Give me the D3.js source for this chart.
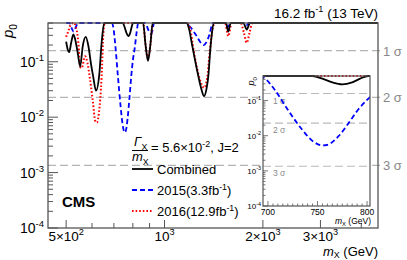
<!DOCTYPE html>
<html>
<head>
<meta charset="utf-8">
<script src="https://cdn.jsdelivr.net/npm/d3@7"></script>
<style>
  body { margin: 0; background: #fff; }
  svg { display: block; font-family: "Liberation Sans", Arial, Helvetica, sans-serif; }
</style>
</head>
<body>
<svg width="407" height="260"></svg>
<script>
// ---- data ----
const massComb = [500, 505, 511, 518, 526, 534, 542, 552, 562, 574, 585, 596, 605, 617, 632, 642, 654,
  745, 755, 765, 775, 785, 793, 801, 860, 875, 890, 905, 920,
  1169, 1190, 1211, 1255, 1295, 1321, 1345, 1362, 1380, 1394, 1415, 1543, 1567, 1594, 1743, 1785, 1826, 4500];
const pComb = [0.23, 0.17, 0.15, 0.22, 0.31, 0.24, 0.15, 0.082, 0.19, 0.28, 0.19, 0.09, 0.054, 0.030, 0.062, 0.22, 0.5,
  0.5, 0.42, 0.33, 0.29, 0.33, 0.42, 0.5, 0.5, 0.2, 0.104, 0.2, 0.5,
  0.5, 0.38, 0.22, 0.075, 0.033, 0.024, 0.033, 0.056, 0.16, 0.3, 0.5, 0.5, 0.35, 0.5, 0.5, 0.38, 0.5, 0.5];

const mass15 = [500, 512, 520, 527, 535, 545, 689, 697, 707, 720, 734, 744, 755, 760, 771, 781,
  791, 800, 812, 822, 831, 872, 895, 907, 918, 929,
  1160, 1200, 1250, 1300, 1320, 1340, 1370, 1395, 1410, 1530, 1560, 1590, 1750, 1780, 1810, 4500];
const p15 = [0.5, 0.5, 0.4, 0.35, 0.42, 0.5, 0.5, 0.42, 0.2, 0.055, 0.0155, 0.0075, 0.0053, 0.0055, 0.0095, 0.022,
  0.055, 0.105, 0.19, 0.35, 0.5, 0.5, 0.36, 0.32, 0.36, 0.5,
  0.5, 0.42, 0.3, 0.21, 0.2, 0.22, 0.3, 0.45, 0.5, 0.5, 0.42, 0.5, 0.5, 0.45, 0.5, 0.5];

const mass16 = [500, 508, 518, 528, 536, 545, 552, 558, 571, 581, 592, 603, 614, 621, 630, 642, 650, 657,
  860, 875, 890, 905, 922, 1170, 1197, 1230, 1280, 1321, 1350, 1375, 1404, 1430,
  1532, 1567, 1605, 1711, 1750, 1785, 1820, 1856, 4500];
const p16 = [0.28, 0.36, 0.48, 0.5, 0.42, 0.22, 0.08, 0.077, 0.125, 0.095, 0.047, 0.02, 0.0085, 0.008, 0.012, 0.054, 0.33, 0.5,
  0.5, 0.2, 0.115, 0.2, 0.5, 0.5, 0.4, 0.15, 0.05, 0.034, 0.05, 0.15, 0.4, 0.5,
  0.5, 0.29, 0.5, 0.5, 0.33, 0.22, 0.33, 0.5, 0.5];

const sigmaP = [0.1587, 0.02275, 0.00135];
const sigmaLabels = ['1', '2', '3'];
const xTickLabels = [[500, '5\u00d710', '2'], [1000, '10', '3'], [2000, '2\u00d710', '3'], [3000, '3\u00d710', '3']];
const xMinor = [600, 700, 800, 900, 4000];
const yDecades = [1e-4, 1e-3, 1e-2, 1e-1];
const insetXLabels = [700, 750, 800];

// ---- helpers ----
function rich(sel, parts, fs, subOff) {
  let shift = 0;
  parts.forEach(p => {
    const t = typeof p === 'string' ? { t: p } : p;
    const target = t.s === 'sup' ? -0.42 * fs : t.s === 'sub' ? (subOff || 0.28) * fs : 0;
    sel.append('tspan')
      .attr('dy', target - shift)
      .style('font-size', (t.s ? 0.68 * fs : fs) + 'px')
      .style('font-style', t.i ? 'italic' : null)
      .text(t.t);
    shift = target;
  });
  return sel;
}

function minorLog(lo, hi) {
  const out = [];
  for (let e = -4; e <= 0; e++) {
    for (let k = 1; k <= 9; k++) {
      const v = k * Math.pow(10, e);
      if (v >= lo * 0.999 && v <= hi * 1.001) out.push(v);
    }
  }
  return out;
}

const svg = d3.select('svg');
const fL = 48, fR = 378, fT = 23, fB = 228;

const x = d3.scaleLog().domain([440, 4500]).range([fL, fR]);
const y = d3.scaleLog().domain([1e-4, 0.5]).range([fB, fT]);

svg.append('defs').append('clipPath').attr('id', 'clipMain')
  .append('rect').attr('x', fL).attr('y', fT - 2).attr('width', fR - fL).attr('height', fB - fT + 2);

const series = [
  { m: mass15, p: p15, color: '#0000ff', dash: '5,3', w: 1.8 },
  { m: mass16, p: p16, color: '#ff0000', dash: '1.6,2', w: 2 },
  { m: massComb, p: pComb, color: '#000', dash: null, w: 1.8 }
];

// sigma lines (main)
sigmaP.forEach((s, i) => {
  svg.append('line')
    .attr('x1', fL).attr('x2', fR + 4)
    .attr('y1', y(s)).attr('y2', y(s))
    .style('stroke', '#b4b4b4').style('stroke-width', 1.2).style('stroke-dasharray', '8,4');
  rich(svg.append('text').attr('x', fR + 5).attr('y', y(s) + 5).style('fill', '#888'),
    [sigmaLabels[i] + ' \u03c3'], 13);
});

// curves (main)
const gMain = svg.append('g').attr('clip-path', 'url(#clipMain)');
series.forEach(s => {
  const line = d3.line().x(d => x(d[0])).y(d => y(d[1])).curve(d3.curveMonotoneX);
  gMain.append('path')
    .datum(d3.zip(s.m, s.p))
    .attr('d', line)
    .style('fill', 'none')
    .style('stroke', s.color)
    .style('stroke-width', s.w)
    .style('stroke-dasharray', s.dash);
});

// frame and ticks (main)
svg.append('rect').attr('x', fL).attr('y', fT).attr('width', fR - fL).attr('height', fB - fT)
  .style('fill', 'none').style('stroke', '#555').style('stroke-width', 1.3);

minorLog(1e-4, 0.5).forEach(v => {
  const major = yDecades.indexOf(v) >= 0;
  svg.append('line').attr('x1', fL).attr('x2', fL + (major ? 10 : 5))
    .attr('y1', y(v)).attr('y2', y(v)).style('stroke', '#555').style('stroke-width', 1);
});
yDecades.forEach(v => {
  rich(svg.append('text').attr('x', 44).attr('y', y(v) + 5).attr('text-anchor', 'end'),
    ['10', { t: '-' + Math.round(-Math.log10(v)), s: 'sup' }], 14);
});

xTickLabels.forEach(d => {
  svg.append('line').attr('x1', x(d[0])).attr('x2', x(d[0])).attr('y1', fB).attr('y2', fB - 8)
    .style('stroke', '#555');
  rich(svg.append('text').attr('x', x(d[0])).attr('y', 241).attr('text-anchor', 'middle'),
    [d[1], { t: d[2], s: 'sup' }], 13.5);
});
xMinor.forEach(v => {
  svg.append('line').attr('x1', x(v)).attr('x2', x(v)).attr('y1', fB).attr('y2', fB - 5)
    .style('stroke', '#555');
});

// titles
rich(svg.append('text').attr('x', fR).attr('y', 18).attr('text-anchor', 'end'),
  ['16.2 fb', { t: '-1', s: 'sup' }, ' (13 TeV)'], 13.5);
rich(svg.append('text').attr('x', fR).attr('y', 255.5).attr('text-anchor', 'end'),
  [{ t: 'm', i: true }, { t: 'X', s: 'sub' }, ' (GeV)'], 13, 0.18);
rich(svg.append('text').attr('transform', 'translate(13,24) rotate(-90)').attr('text-anchor', 'end'),
  [{ t: 'p', i: true }, { t: '0', s: 'sub' }], 15);

svg.append('text').attr('x', 62).attr('y', 207).style('font-weight', 'bold').style('font-size', '15px').text('CMS');

// legend
rich(svg.append('text').attr('x', 134).attr('y', 146), [{ t: '\u0393', i: true }, { t: 'X', s: 'sub' }], 13);
svg.append('line').attr('x1', 132).attr('x2', 148).attr('y1', 150.5).attr('y2', 150.5).style('stroke', '#000');
rich(svg.append('text').attr('x', 132).attr('y', 161), [{ t: 'm', i: true }, { t: 'X', s: 'sub' }], 13);
rich(svg.append('text').attr('x', 151).attr('y', 152),
  ['= 5.6\u00d710', { t: '-2', s: 'sup' }, ', J=2'], 13);

const legendRows = [
  { s: series[2], y: 169, parts: ['Combined'] },
  { s: series[0], y: 190, parts: ['2015(3.3fb', { t: '-1', s: 'sup' }, ')'] },
  { s: series[1], y: 211, parts: ['2016(12.9fb', { t: '-1', s: 'sup' }, ')'] }
];
legendRows.forEach(r => {
  svg.append('line').attr('x1', 132).attr('x2', 153).attr('y1', r.y).attr('y2', r.y)
    .style('stroke', r.s.color).style('stroke-width', r.s.w).style('stroke-dasharray', r.s.dash);
  rich(svg.append('text').attr('x', 157).attr('y', r.y + 5), r.parts, 13);
});

// ---- inset ----
const iL = 263, iR = 370, iT = 76, iB = 206;
const xi = d3.scaleLinear().domain([695, 803]).range([iL, iR]);
const yi = d3.scaleLog().domain([1e-4, 0.5]).range([iB, iT]);

svg.select('defs').append('clipPath').attr('id', 'clipInset')
  .append('rect').attr('x', iL).attr('y', iT - 2).attr('width', iR - iL).attr('height', iB - iT + 2);

svg.append('rect').attr('x', iL).attr('y', iT).attr('width', iR - iL).attr('height', iB - iT).style('fill', '#fff');

sigmaP.forEach((s, i) => {
  svg.append('line').attr('x1', iL).attr('x2', iR).attr('y1', yi(s)).attr('y2', yi(s))
    .style('stroke', '#bbb').style('stroke-width', 1.1).style('stroke-dasharray', '8,4');
  rich(svg.append('text').attr('x', 273).attr('y', yi(s) + 10).style('fill', '#888'),
    [sigmaLabels[i] + ' \u03c3'], 8.5);
});

const gInset = svg.append('g').attr('clip-path', 'url(#clipInset)');
series.forEach(s => {
  const line = d3.line().x(d => xi(d[0])).y(d => yi(d[1])).curve(d3.curveMonotoneX);
  gInset.append('path')
    .datum(d3.zip(s.m, s.p))
    .attr('d', line)
    .style('fill', 'none')
    .style('stroke', s.color)
    .style('stroke-width', s.w)
    .style('stroke-dasharray', s.dash);
});

svg.append('rect').attr('x', iL).attr('y', iT).attr('width', iR - iL).attr('height', iB - iT)
  .style('fill', 'none').style('stroke', '#555').style('stroke-width', 1.2);

minorLog(1e-4, 0.5).forEach(v => {
  const major = yDecades.indexOf(v) >= 0;
  svg.append('line').attr('x1', iL).attr('x2', iL + (major ? 5 : 2.5))
    .attr('y1', yi(v)).attr('y2', yi(v)).style('stroke', '#555').style('stroke-width', 0.8);
});
yDecades.forEach(v => {
  rich(svg.append('text').attr('x', iL - 2).attr('y', yi(v) + 3).attr('text-anchor', 'end'),
    ['10', { t: '-' + Math.round(-Math.log10(v)), s: 'sup' }], 8);
});
d3.range(700, 801, 5).forEach(v => {
  const major = v % 50 === 0;
  svg.append('line').attr('x1', xi(v)).attr('x2', xi(v)).attr('y1', iB).attr('y2', iB - (major ? 5 : 2.5))
    .style('stroke', '#555').style('stroke-width', 0.8);
});
insetXLabels.forEach(v => {
  svg.append('text').attr('x', xi(v)).attr('y', 215).attr('text-anchor', 'middle')
    .style('font-size', '8.5px').text(v);
});
rich(svg.append('text').attr('x', 371).attr('y', 224).attr('text-anchor', 'end'),
  [{ t: 'm', i: true }, { t: 'X', s: 'sub' }, ' (GeV)'], 8.5);
rich(svg.append('text').attr('transform', 'translate(254,77) rotate(-90)').attr('text-anchor', 'end'),
  [{ t: 'p', i: true }, { t: '0', s: 'sub' }], 9);
</script>
</body>
</html>
